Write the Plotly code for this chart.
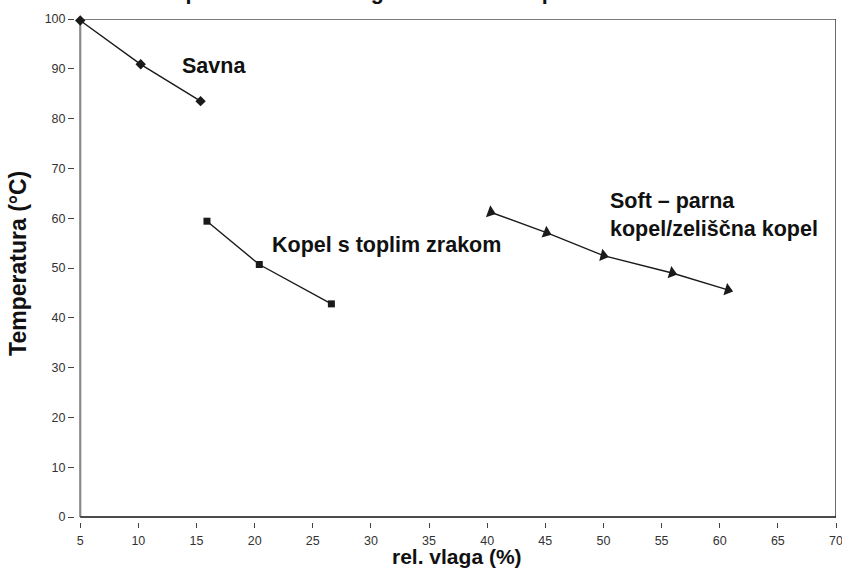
import math
import plotly.graph_objects as go

# ---- data ----
savna_x = [5.0, 10.2, 15.35]
savna_y = [99.7, 90.9, 83.5]
kopel_x = [15.9, 20.4, 26.6]
kopel_y = [59.4, 50.7, 42.8]
soft_x = [40.3, 45.1, 50.0, 55.9, 60.7]
soft_y = [61.2, 57.1, 52.5, 49.0, 45.6]

x_ticks = [5, 10, 15, 20, 25, 30, 35, 40, 45, 50, 55, 60, 65, 70]
y_ticks = [0, 10, 20, 30, 40, 50, 60, 70, 80, 90, 100]

title_text = "Temperatura in rel. vlaga za različne kopeli"
x_title = "rel. vlaga (%)"
y_title = "Temperatura (°C)"
label_savna = "Savna"
label_kopel = "Kopel s toplim zrakom"
label_soft = "Soft – parna<br>kopel/zeliščna kopel"

FONT = "Liberation Sans, Arial, Helvetica, sans-serif"
INK = "#111111"

W, H = 842, 569
ML, MR, MT, MB = 75, 6, 19, 47
XR = [4.55, 70]
YR = [-1.0, 100]
px_x = (W - ML - MR) / (XR[1] - XR[0])
px_y = (H - MT - MB) / (YR[1] - YR[0])

# triangle orientation along the line (screen space, clockwise degrees)
soft_angles = []
for i in range(len(soft_x)):
    j0, j1 = (i, i + 1) if i < len(soft_x) - 1 else (i - 1, i)
    dx = (soft_x[j1] - soft_x[j0]) * px_x
    dy = (soft_y[j0] - soft_y[j1]) * px_y
    soft_angles.append(math.degrees(math.atan2(dy, dx)))

fig = go.Figure()

line_style = dict(color="#1a1a1a", width=1.4)
fig.add_trace(go.Scatter(x=savna_x, y=savna_y, mode="lines+markers", line=line_style,
                         marker=dict(symbol="diamond", size=8, color="#1a1a1a"), cliponaxis=False))
fig.add_trace(go.Scatter(x=kopel_x, y=kopel_y, mode="lines+markers", line=line_style,
                         marker=dict(symbol="square", size=7, color="#1a1a1a"), cliponaxis=False))
fig.add_trace(go.Scatter(x=soft_x, y=soft_y, mode="lines+markers", line=line_style,
                         marker=dict(symbol="triangle-right", size=11, color="#1a1a1a",
                                     angle=soft_angles), cliponaxis=False))

# frame lines
x0, x1 = x_ticks[0], x_ticks[-1]
y0, y1 = y_ticks[0], y_ticks[-1]
fig.add_shape(type="line", x0=x0, x1=x1, y0=y1, y1=y1, line=dict(color="#7a7a7a", width=2.2), layer="below")
fig.add_shape(type="line", x0=x0, x1=x0, y0=y0, y1=y1, line=dict(color="#8a8a8a", width=2.2), layer="below")
fig.add_shape(type="line", x0=x1, x1=x1, y0=y0, y1=y1, line=dict(color="#3a3a3a", width=1.5), layer="below")
fig.add_shape(type="line", x0=x0, x1=x1, y0=y0, y1=y0, line=dict(color="#111111", width=1.6), layer="below")

lab_font = dict(family=FONT, size=21.5, color=INK)
fig.add_annotation(x=13.6, y=90.6, text="<b>%s</b>" % label_savna, showarrow=False,
                   xanchor="left", yanchor="middle", font=lab_font)
fig.add_annotation(x=21.3, y=54.6, text="<b>%s</b>" % label_kopel, showarrow=False,
                   xanchor="left", yanchor="middle", font=lab_font)
fig.add_annotation(x=50.4, y=60.6, text="<b>%s</b>" % label_soft, showarrow=False,
                   xanchor="left", yanchor="middle", align="left", font=lab_font)

# axis titles
fig.add_annotation(xref="paper", yref="paper", x=-0.075, y=0.515, text="<b>%s</b>" % y_title,
                   textangle=-90, showarrow=False, xanchor="center", yanchor="middle",
                   font=dict(family=FONT, size=23, color=INK))
fig.add_annotation(x=37.4, yref="paper", y=-0.069, text="<b>%s</b>" % x_title,
                   showarrow=False, xanchor="center", yanchor="middle",
                   font=dict(family=FONT, size=21, color=INK))

# title, mostly cut off at the top edge as in the reference
fig.add_annotation(xref="paper", yref="paper", x=0.087, y=1.025, text="<b>%s</b>" % title_text,
                   showarrow=False, xanchor="left", yanchor="bottom",
                   font=dict(family=FONT, size=21.5, color=INK))

fig.update_layout(
    width=W, height=H,
    margin=dict(l=ML, r=MR, t=MT, b=MB, autoexpand=False),
    paper_bgcolor="white", plot_bgcolor="white",
    showlegend=False,
    font=dict(family=FONT, size=12, color="#333333"),
    xaxis=dict(range=XR, tickvals=x_ticks, ticktext=[str(v) for v in x_ticks],
               showgrid=False, zeroline=False, showline=False, ticks="outside",
               ticklen=5, tickwidth=1.2, tickcolor="#444444", ticklabeloverflow="allow",
               ticklabelstandoff=2, automargin=False,
               tickfont=dict(family=FONT, size=12.5, color="#333333")),
    yaxis=dict(range=YR, tickvals=y_ticks, ticktext=[str(v) for v in y_ticks],
               showgrid=False, zeroline=False, showline=False, ticks="outside",
               ticklen=6, tickwidth=1.2, tickcolor="#444444", automargin=False,
               tickfont=dict(family=FONT, size=12.5, color="#333333")),
)

fig.write_html("out.html", config={"displayModeBar": False},
               post_script="document.body.style.margin='0';document.body.style.overflow='hidden';")
